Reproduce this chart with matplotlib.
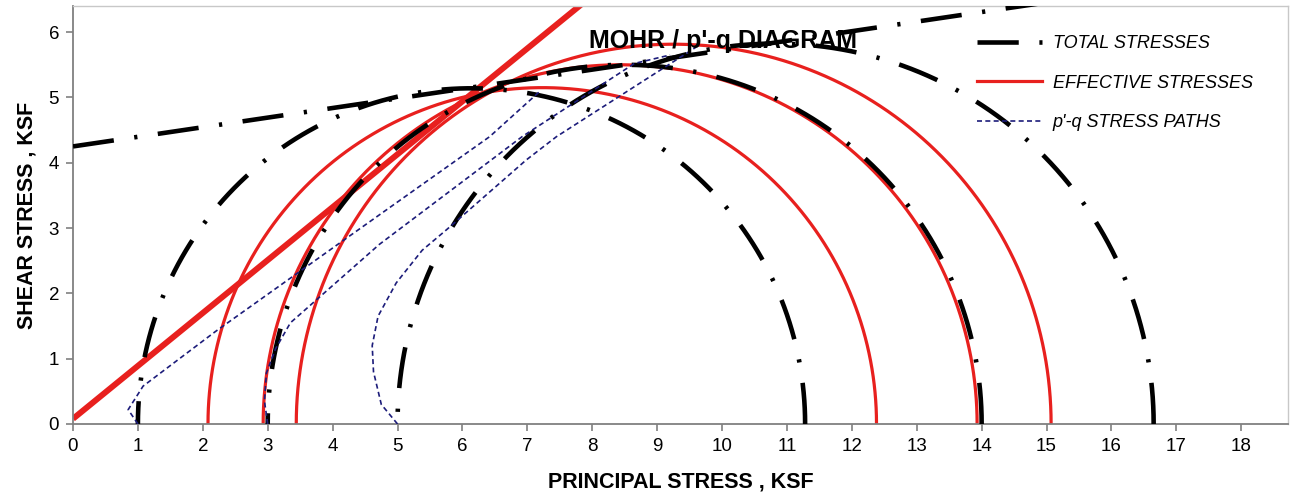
import numpy as np
import matplotlib
matplotlib.use("Agg")
import matplotlib.pyplot as plt
from matplotlib.lines import Line2D

plt.rcParams['font.family'] = ['Liberation Sans', 'DejaVu Sans']

# ---- data ----
total_sigma3 = [1.0, 3.0, 5.0]
total_sigma1 = [11.28, 14.0, 16.65]
eff_sigma3 = [2.08, 2.93, 3.44]
eff_sigma1 = [12.38, 13.93, 15.07]

total_env_c = 4.25      # ksf
total_env_slope = 0.147
eff_env_c = 0.08
eff_env_slope = 0.81

path_a_p = [1.0, 0.85, 1.08, 2.2, 4.15, 6.42, 7.2]
path_a_q = [0.0, 0.22, 0.58, 1.42, 2.8, 4.40, 5.1]
path_b_p = [3.0, 2.95, 2.98, 3.12, 3.35, 4.72, 6.92, 8.65, 9.2]
path_b_q = [0.0, 0.35, 0.78, 1.15, 1.55, 2.75, 4.40, 5.52, 5.65]
path_c_p = [5.0, 4.75, 4.63, 4.61, 4.70, 4.98, 5.38, 5.75, 6.98, 7.45, 9.6]
path_c_q = [0.0, 0.3, 0.8, 1.2, 1.65, 2.16, 2.66, 2.97, 4.04, 4.40, 5.77]

xticks = list(range(0, 19))
yticks = list(range(0, 7))

title = "MOHR / p'-q DIAGRAM"
legend_labels = ["TOTAL STRESSES", "EFFECTIVE STRESSES", "p'-q STRESS PATHS"]
xlabel = "PRINCIPAL STRESS , KSF"
ylabel = "SHEAR STRESS , KSF"

# ---- styles ----
black_lw = 3.3
black_dash = (0, (9, 4.5, 0.7, 4.5))
red = '#e8201e'
blue = '#1c1c7a'

fig = plt.figure(figsize=(12.95, 4.95), dpi=100)
ax = fig.add_axes([73/1295, 71/495, 1215/1295, 418/495])
xmax, ymax = 18.72, 6.4
ax.set_xlim(0, xmax)
ax.set_ylim(0, ymax)

theta = np.linspace(0, np.pi, 400)

# total stress circles
for s3, s1 in zip(total_sigma3, total_sigma1):
    c, r = (s1 + s3) / 2, (s1 - s3) / 2
    ax.plot(c + r*np.cos(theta), r*np.sin(theta), color='black', lw=black_lw,
            linestyle=black_dash, dash_capstyle='butt', zorder=3)

# effective stress circles
for s3, s1 in zip(eff_sigma3, eff_sigma1):
    c, r = (s1 + s3) / 2, (s1 - s3) / 2
    ax.plot(c + r*np.cos(theta), r*np.sin(theta), color=red, lw=2.3, zorder=2)

# envelopes
xe = np.array([0, xmax])
ax.plot(xe, total_env_c + total_env_slope*xe, color='black', lw=black_lw,
        linestyle=black_dash, dash_capstyle='butt', zorder=3)
ax.plot(xe, eff_env_c + eff_env_slope*xe, color=red, lw=4.3, zorder=2,
        solid_capstyle='butt')

# stress paths
for p, q in [(path_a_p, path_a_q), (path_b_p, path_b_q), (path_c_p, path_c_q)]:
    ax.plot(p, q, color=blue, lw=1.2, linestyle=(0, (3, 2)), zorder=4)

ax.text(7.95, 5.86, title, fontsize=18, fontweight='bold', ha='left',
        va='center', zorder=5)

# axes cosmetics
for side in ['top', 'right']:
    ax.spines[side].set_color('#c8c8c8')
    ax.spines[side].set_linewidth(1.0)
for side in ['left', 'bottom']:
    ax.spines[side].set_color('#808080')
    ax.spines[side].set_linewidth(1.3)
ax.set_xticks(xticks)
ax.set_yticks(yticks)
ax.tick_params(axis='both', direction='out', length=5, width=1.2,
               color='#808080', labelsize=13.5, pad=5)
ax.set_xlabel(xlabel, fontsize=15.5, fontweight='bold', labelpad=12)
ax.set_ylabel(ylabel, fontsize=15.5, fontweight='bold', labelpad=8)

handles = [
    Line2D([], [], color='black', lw=black_lw, linestyle=black_dash,
           dash_capstyle='butt'),
    Line2D([], [], color=red, lw=2.3),
    Line2D([], [], color=blue, lw=1.2, linestyle=(0, (3, 2))),
]
leg = ax.legend(handles, legend_labels, loc='upper left',
                bbox_to_anchor=((977-73)/1215, (424-35)/418),
                frameon=False, handlelength=3.6, handletextpad=0.6,
                labelspacing=1.25, borderpad=0, borderaxespad=0,
                prop={'size': 13, 'style': 'italic'})

fig.savefig('out.png', dpi=100)
